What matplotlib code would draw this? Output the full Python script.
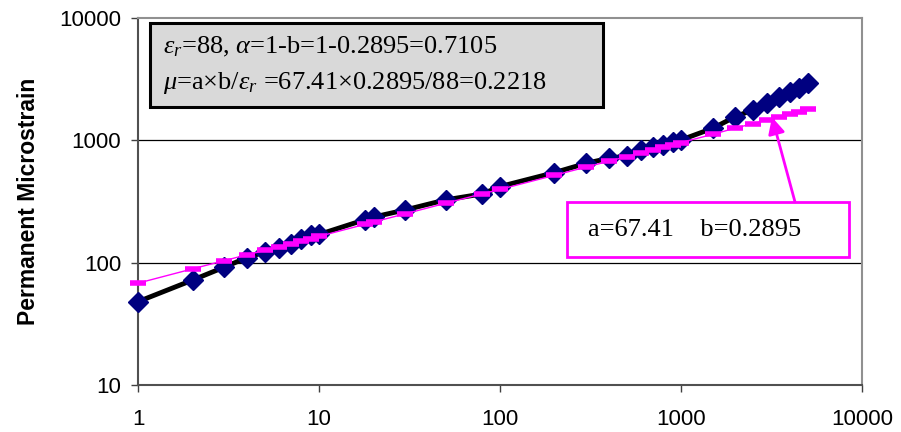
import matplotlib.pyplot as plt
import matplotlib as mpl
from matplotlib.patches import Rectangle
import numpy as np

# load cycles vs permanent microstrain
cycles = [1, 2, 3, 4, 5, 6, 7, 8, 9, 10, 18, 20, 30, 50, 80, 100, 200,
          300, 400, 500, 600, 700, 800, 900, 1000, 1500, 2000, 2500,
          3000, 3500, 4000, 4500, 5000]
measured = [48, 72, 92, 110, 122, 133, 143, 157, 168, 170, 225, 236, 270,
            326, 365, 419, 545, 650, 714, 745, 834, 889, 917, 977, 1007,
            1256, 1563, 1773, 2030, 2277, 2502, 2667, 2930]
fitted = [68, 89, 104, 116, 126, 135, 143, 150, 157, 164, 206, 215, 251,
          306, 366, 397, 518, 605, 676, 736, 789, 836, 880, 920, 960,
          1120, 1260, 1370, 1470, 1560, 1640, 1720, 1800]

xticks = [1, 10, 100, 1000, 10000]
yticks = [10, 100, 1000, 10000]

mpl.rcParams['font.family'] = ['Liberation Sans', 'DejaVu Sans']
mpl.rcParams['mathtext.fontset'] = 'custom'
mpl.rcParams['mathtext.rm'] = 'Liberation Serif'
mpl.rcParams['mathtext.it'] = 'Liberation Serif:italic'

fig = plt.figure(figsize=(9.01, 4.32), dpi=100)
ax = fig.add_axes([0.1532, 0.1088, 0.8035, 0.8495])

ax.set_xscale('log')
ax.set_yscale('log')
ax.set_xlim(1, 10000)
ax.set_ylim(10, 10000)

for v in [100, 1000]:
    ax.axhline(v, color='black', lw=0.9, zorder=1)

ax.plot(cycles, measured, color='black', lw=3.5, zorder=2, clip_on=False)
ax.plot(cycles, measured, ls='none', marker='D', ms=10.5,
        color='#000080', zorder=3, clip_on=False)
ax.plot(cycles, fitted, color='#FF00FF', lw=1, marker='_', ms=11,
        mew=4, zorder=4, clip_on=False)

ax.set_xticks(xticks)
ax.set_xticklabels([str(t) for t in xticks])
ax.set_yticks(yticks)
ax.set_yticklabels([str(t) for t in yticks])
ax.minorticks_off()
ax.tick_params(axis='x', length=5, width=1, color='#404040', pad=12, labelsize=16)
ax.tick_params(axis='y', length=5, width=1, color='#404040', pad=7, labelsize=16)

for s in ['left', 'bottom']:
    ax.spines[s].set_color('#505050')
    ax.spines[s].set_linewidth(1.5)
for s in ['top', 'right']:
    ax.spines[s].set_color('#909090')
    ax.spines[s].set_linewidth(1.5)

ax.set_ylabel('Permanent Microstrain', fontsize=16.5, fontweight='bold', labelpad=14)

# parameter box
ax.add_patch(Rectangle((0.0166, 0.758), 0.6254, 0.229, transform=ax.transAxes,
                       fc='#D9D9D9', ec='black', lw=2.2, zorder=5))
ax.text(0.0345, 0.921, r'$\varepsilon_r$=88, $\alpha$=1-b=1-0.2895=0.7105',
        transform=ax.transAxes, fontsize=19, family='Liberation Serif',
        va='center', ha='left', zorder=6)
ax.text(0.0345, 0.823,
        r'$\mu$=a$\times$b/$\varepsilon_r$ =67.41$\times$0.2895/88=0.2218',
        transform=ax.transAxes, fontsize=19, family='Liberation Serif',
        va='center', ha='left', zorder=6)

# fit coefficient box with arrow
ax.add_patch(Rectangle((0.5926, 0.349), 0.3894, 0.1496, transform=ax.transAxes,
                       fc='white', ec='#FF00FF', lw=2, zorder=5))
ax.text(0.769, 0.422, 'a=67.41    b=0.2895', transform=ax.transAxes,
        fontsize=19, family='Liberation Serif', ha='center', va='center', zorder=6)
ax.annotate('', xy=(0.8757, 0.730), xycoords='axes fraction',
            xytext=(0.9075, 0.4986), textcoords='axes fraction',
            arrowprops=dict(arrowstyle='-|>', color='#FF00FF', lw=2,
                            mutation_scale=25, shrinkA=0, shrinkB=0),
            zorder=6)

fig.savefig('out.png', dpi=100)
